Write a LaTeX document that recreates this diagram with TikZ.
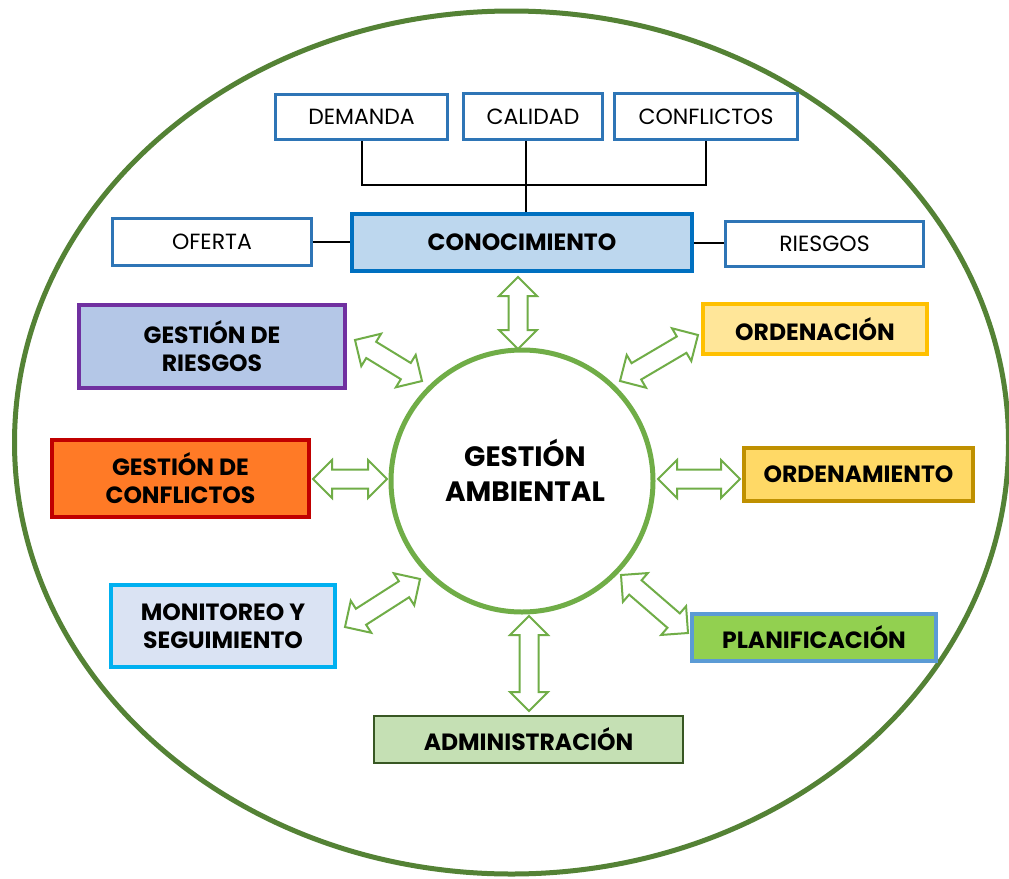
\documentclass[tikz,border=0pt]{standalone}
\usepackage{fontspec}
\setmainfont{Poppins}
\usetikzlibrary{calc}

\definecolor{outergreen}{HTML}{548235}
\definecolor{ringgreen}{HTML}{70AD47}
\definecolor{boxblue}{HTML}{2E75B6}
\definecolor{conblue}{HTML}{0070C0}
\definecolor{confill}{HTML}{BDD7EE}
\definecolor{riskdraw}{HTML}{7030A0}
\definecolor{riskfill}{HTML}{B4C7E7}
\definecolor{confldraw}{HTML}{C00000}
\definecolor{conflfill}{HTML}{FF7A26}
\definecolor{mondraw}{HTML}{00B0F0}
\definecolor{monfill}{HTML}{DAE3F3}
\definecolor{admdraw}{HTML}{385723}
\definecolor{admfill}{HTML}{C5E0B4}
\definecolor{pladraw}{HTML}{5B9BD5}
\definecolor{plafill}{HTML}{92D050}
\definecolor{ormdraw}{HTML}{BF9000}
\definecolor{ormfill}{HTML}{FFD966}
\definecolor{orcdraw}{HTML}{FFC000}
\definecolor{orcfill}{HTML}{FFE699}

\tikzset{
  smallbox/.style={draw=boxblue, line width=2.5pt, fill=white, inner sep=0pt,
    font=\fontsize{22}{26}\selectfont},
  bigbox/.style={line width=4pt, inner sep=0pt, align=center,
    font=\fontsize{23.5}{28}\selectfont\bfseries},
  link/.style={draw=black, line width=2pt},
  arrowshape/.style={draw=ringgreen, line width=2pt, fill=white, line join=miter},
}

% hollow double-headed block arrow between two named points
\newcommand\dblarrow[2]{%
  \draw[arrowshape] (#1)
    -- ($(#1)!19pt!(#2)!19pt!90:(#2)$)
    -- ($(#1)!19pt!(#2)!9.5pt!90:(#2)$)
    -- ($(#2)!19pt!(#1)!9.5pt!-90:(#1)$)
    -- ($(#2)!19pt!(#1)!19pt!-90:(#1)$)
    -- (#2)
    -- ($(#2)!19pt!(#1)!19pt!90:(#1)$)
    -- ($(#2)!19pt!(#1)!9.5pt!90:(#1)$)
    -- ($(#1)!19pt!(#2)!9.5pt!-90:(#2)$)
    -- ($(#1)!19pt!(#2)!19pt!-90:(#2)$)
    -- cycle;}

\begin{document}
\begin{tikzpicture}[x=1pt, y=-1pt]
\useasboundingbox (0,0) rectangle (1009,878);
\fill[white] (0,0) rectangle (1009,878);

% outer frame
\draw[outergreen, line width=5pt] (511.5,442.5) ellipse [x radius=497, y radius=431.5];

% knowledge block
\node[smallbox, minimum width=172, minimum height=45] (dem) at (361.5,117) {DEMANDA};
\node[smallbox, minimum width=139, minimum height=46] (cal) at (533,116.5) {CALIDAD};
\node[smallbox, minimum width=183, minimum height=46] (cfl) at (706,116.5) {CONFLICTOS};
\node[smallbox, minimum width=199, minimum height=47] (ofe) at (212,242) {OFERTA};
\node[smallbox, minimum width=198, minimum height=45] (rie) at (824.5,244) {RIESGOS};
\node[bigbox, draw=conblue, fill=confill, minimum width=340, minimum height=57] (con) at (522,242.5) {CONOCIMIENTO};

\coordinate (bar) at (526,185);
\draw[link] (dem.south) |- (bar) -| (cfl.south);
\draw[link] (bar |- cal.south) -- (bar |- con.north);
\draw[link] (ofe.east) -- (ofe.east -| con.west);
\draw[link] (con.east) -- (con.east -| rie.west);

% central ring and its title
\node[draw=ringgreen, line width=5pt, circle, minimum size=262, inner sep=0pt] (ga) at (522,481) {};
\node[align=center, font=\fontsize{28}{35}\selectfont\bfseries] (gatext) at (525,470) {GESTIÓN\\AMBIENTAL};

% surrounding blocks
\node[bigbox, draw=riskdraw, fill=riskfill, minimum width=266, minimum height=83] (gr) at (212,346.5) {GESTIÓN DE\\RIESGOS};
\node[bigbox, draw=confldraw, fill=conflfill, minimum width=257, minimum height=77] (gc) at (180.5,478.5) {GESTIÓN DE\\CONFLICTOS};
\node[bigbox, draw=mondraw, fill=monfill, minimum width=224, minimum height=82] (mon) at (223,626) {MONITOREO Y\\SEGUIMIENTO};
\node[bigbox, draw=admdraw, fill=admfill, line width=1.5pt, minimum width=309, minimum height=47] (adm) at (528.5,739.5) {ADMINISTRACIÓN};
\node[bigbox, draw=pladraw, fill=plafill, minimum width=244, minimum height=47] (pla) at (814,637.5) {PLANIFICACIÓN};
\node[bigbox, draw=ormdraw, fill=ormfill, minimum width=229, minimum height=53] (orm) at (858.5,474.5) {ORDENAMIENTO};
\node[bigbox, draw=orcdraw, fill=orcfill, minimum width=224, minimum height=50] (orc) at (815,329) {ORDENACIÓN};

% arrow end points, next to the ring and the blocks
\coordinate (t1) at (518,277);  \coordinate (t2) at (518,349);
\coordinate (ul1) at (355,340); \coordinate (ul2) at (422,381);
\coordinate (ur1) at (698,335); \coordinate (ur2) at (620,381);
\coordinate (l1) at (313,479);  \coordinate (l2) at (387,479);
\coordinate (r1) at (658,479);  \coordinate (r2) at (740,479);
\coordinate (ll1) at (345,627); \coordinate (ll2) at (420,579);
\coordinate (lr1) at (621,575); \coordinate (lr2) at (688,633);
\coordinate (b1) at (529,616);  \coordinate (b2) at (529,711);

\dblarrow{t1}{t2}
\dblarrow{ul1}{ul2}
\dblarrow{ur1}{ur2}
\dblarrow{l1}{l2}
\dblarrow{r1}{r2}
\dblarrow{ll1}{ll2}
\dblarrow{lr1}{lr2}
\dblarrow{b1}{b2}
\end{tikzpicture}
\end{document}
